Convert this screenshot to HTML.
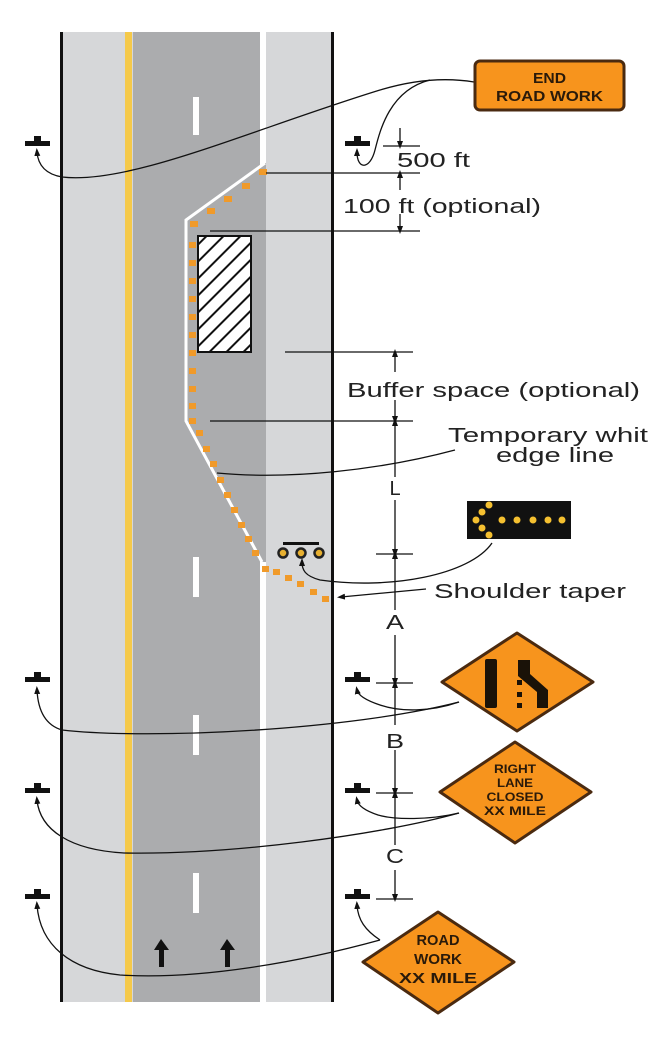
<!DOCTYPE html>
<html><head><meta charset="utf-8"><style>
html,body{margin:0;padding:0;background:#fff;}
svg{display:block;}
text{font-family:"Liberation Sans",sans-serif;fill:#222;}
.b{font-weight:bold;fill:#2a1a0a;}
</style></head><body>
<svg width="648" height="1056" viewBox="0 0 648 1056" xmlns="http://www.w3.org/2000/svg">
<defs>
<marker id="ah" markerWidth="8" markerHeight="8" refX="4" refY="4" orient="auto" markerUnits="userSpaceOnUse">
<path d="M0,1 L8,4 L0,7 Z" fill="#111"/></marker>
<pattern id="hatch" width="12" height="12" patternUnits="userSpaceOnUse" patternTransform="rotate(45)">
<rect width="12" height="12" fill="#fff"/><rect width="2" height="12" fill="#111"/></pattern>
</defs>
<!-- road -->
<rect x="62" y="32" width="270" height="970" fill="#d6d7d9"/>
<rect x="133" y="32" width="127" height="970" fill="#abacae"/>
<rect x="125" y="32" width="7" height="970" fill="#f5c94a"/>
<rect x="260" y="32" width="6" height="970" fill="#fff"/>
<rect x="60" y="32" width="3" height="970" fill="#111"/>
<rect x="331" y="32" width="3" height="970" fill="#111"/>
<!-- dashes -->
<g fill="#fff"><rect x="193" y="97" width="6" height="38"/><rect x="193" y="557" width="6" height="40"/><rect x="193" y="715" width="6" height="40"/><rect x="193" y="873" width="6" height="40"/></g>
<!-- work zone -->
<polygon points="264,163 186,220 186,421 262,562 266,562 266,163" fill="#abacae"/>
<polyline points="265,163 186,220 186,421 262,562" fill="none" stroke="#fff" stroke-width="3"/>
<rect x="198" y="236" width="53" height="116" fill="url(#hatch)" stroke="#111" stroke-width="2"/>
<g fill="#f09a2a">
<rect x="259" y="169" width="8" height="6"/><rect x="242" y="183" width="8" height="6"/><rect x="224" y="196" width="8" height="6"/><rect x="207" y="208" width="8" height="6"/><rect x="190" y="221" width="8" height="6"/>
<rect x="189" y="242" width="7" height="6"/><rect x="189" y="260" width="7" height="6"/><rect x="189" y="278" width="7" height="6"/><rect x="189" y="296" width="7" height="6"/><rect x="189" y="314" width="7" height="6"/><rect x="189" y="332" width="7" height="6"/><rect x="189" y="350" width="7" height="6"/><rect x="189" y="368" width="7" height="6"/><rect x="189" y="386" width="7" height="6"/><rect x="189" y="403" width="7" height="6"/><rect x="189" y="418" width="7" height="6"/>
<rect x="196" y="430" width="7" height="6"/><rect x="203" y="446" width="7" height="6"/><rect x="210" y="461" width="7" height="6"/><rect x="217" y="477" width="7" height="6"/><rect x="224" y="492" width="7" height="6"/><rect x="231" y="507" width="7" height="6"/><rect x="238" y="522" width="7" height="6"/><rect x="245" y="536" width="7" height="6"/><rect x="252" y="550" width="7" height="6"/>
<rect x="262" y="566" width="7" height="6"/><rect x="273" y="569" width="7" height="6"/><rect x="285" y="575" width="7" height="6"/><rect x="297" y="581" width="7" height="6"/><rect x="310" y="589" width="7" height="6"/><rect x="322" y="596" width="7" height="6"/>
</g>
<!-- arrow truck -->
<rect x="283" y="542" width="36" height="3" fill="#111"/>
<g fill="#e8b030" stroke="#222" stroke-width="2.5"><circle cx="283" cy="553" r="4.5"/><circle cx="301" cy="553" r="4.5"/><circle cx="319" cy="553" r="4.5"/></g>
<!-- lane arrows -->
<g fill="#111"><path d="M161,939 L154,950 L159,950 L159,967 L164,967 L164,950 L169,950 Z"/><path d="M227,939 L220,950 L225,950 L225,967 L230,967 L230,950 L235,950 Z"/></g>
<!-- posts -->
<g fill="#111">
<g id="p"><rect x="25" y="141" width="25" height="5"/><rect x="34" y="136" width="7" height="6"/></g>
<use href="#p" x="320" y="0"/>
<use href="#p" x="0" y="536"/><use href="#p" x="320" y="536"/>
<use href="#p" x="0" y="647"/><use href="#p" x="320" y="647"/>
<use href="#p" x="0" y="753"/><use href="#p" x="320" y="753"/>
</g>
<!-- dimension lines -->
<g stroke="#111" stroke-width="1.3" fill="none">
<line x1="383" y1="146" x2="420" y2="146"/>
<line x1="266" y1="173" x2="420" y2="173"/>
<line x1="210" y1="231" x2="420" y2="231"/>
<line x1="285" y1="352" x2="413" y2="352"/>
<line x1="210" y1="421" x2="413" y2="421"/>
<line x1="376" y1="554" x2="413" y2="554"/>
<line x1="376" y1="683" x2="413" y2="683"/>
<line x1="376" y1="793" x2="413" y2="793"/>
<line x1="376" y1="899" x2="413" y2="899"/>
<line x1="400" y1="128" x2="400" y2="145" marker-end="url(#ah)"/>
<line x1="400" y1="190" x2="400" y2="174" marker-end="url(#ah)"/>
<line x1="400" y1="214" x2="400" y2="230" marker-end="url(#ah)"/>
<line x1="395" y1="372" x2="395" y2="353" marker-end="url(#ah)"/>
<line x1="395" y1="400" x2="395" y2="420" marker-end="url(#ah)"/>
<line x1="395" y1="477" x2="395" y2="422" marker-end="url(#ah)"/>
<line x1="395" y1="500" x2="395" y2="553" marker-end="url(#ah)"/>
<line x1="395" y1="610" x2="395" y2="555" marker-end="url(#ah)"/>
<line x1="395" y1="635" x2="395" y2="682" marker-end="url(#ah)"/>
<line x1="395" y1="725" x2="395" y2="684" marker-end="url(#ah)"/>
<line x1="395" y1="750" x2="395" y2="792" marker-end="url(#ah)"/>
<line x1="395" y1="845" x2="395" y2="794" marker-end="url(#ah)"/>
<line x1="395" y1="870" x2="395" y2="898" marker-end="url(#ah)"/>
</g>
<!-- leaders -->
<g stroke="#111" stroke-width="1.3" fill="none">
<path d="M474,82 C450,78 420,78 380,90 C250,130 130,185 62,177 C45,174 38,165 37,152" marker-end="url(#ah)"/>
<path d="M430,80 C390,90 380,130 375,150 C370,170 357,170 357,152" marker-end="url(#ah)"/>
<path d="M455,450 C380,470 290,480 217,473"/>
<path d="M492,543 C470,575 390,590 320,580 C305,576 302,570 302,562" marker-end="url(#ah)"/>
<path d="M426,589 L341,597" marker-end="url(#ah)"/>
<path d="M459,702 C350,730 150,740 62,730 C45,725 38,710 37,690" marker-end="url(#ah)"/>
<path d="M459,702 C430,712 400,712 380,705 C365,700 358,695 357,690" marker-end="url(#ah)"/>
<path d="M459,813 C380,835 230,855 124,853 C70,850 40,830 37,800" marker-end="url(#ah)"/>
<path d="M459,813 C430,820 395,820 378,815 C363,810 358,805 357,800" marker-end="url(#ah)"/>
<path d="M380,940 C300,962 200,980 120,975 C70,970 40,945 37,905" marker-end="url(#ah)"/>
<path d="M380,940 C365,930 358,920 357,905" marker-end="url(#ah)"/>
</g>
<!-- labels -->
<text x="397" y="167" font-size="20" textLength="73" lengthAdjust="spacingAndGlyphs">500 ft</text>
<text x="343" y="213" font-size="20" textLength="198" lengthAdjust="spacingAndGlyphs">100 ft (optional)</text>
<text x="347" y="397" font-size="20" textLength="293" lengthAdjust="spacingAndGlyphs">Buffer space (optional)</text>
<text x="448" y="442" font-size="20" textLength="200" lengthAdjust="spacingAndGlyphs">Temporary whit</text>
<text x="496" y="462" font-size="20" textLength="118" lengthAdjust="spacingAndGlyphs">edge line</text>
<text x="395" y="495" font-size="20" text-anchor="middle">L</text>
<text x="434" y="598" font-size="20" textLength="192" lengthAdjust="spacingAndGlyphs">Shoulder taper</text>
<text x="395" y="629" font-size="20" text-anchor="middle" textLength="18" lengthAdjust="spacingAndGlyphs">A</text>
<text x="395" y="748" font-size="20" text-anchor="middle" textLength="18" lengthAdjust="spacingAndGlyphs">B</text>
<text x="395" y="863" font-size="20" text-anchor="middle" textLength="18" lengthAdjust="spacingAndGlyphs">C</text>
<!-- END ROAD WORK sign -->
<rect x="475" y="61" width="149" height="49" rx="5" fill="#f7941d" stroke="#4a2a10" stroke-width="3"/>
<text class="b" x="549.5" y="83" font-size="15" text-anchor="middle" textLength="33" lengthAdjust="spacingAndGlyphs">END</text>
<text class="b" x="549.5" y="101" font-size="15" text-anchor="middle" textLength="107" lengthAdjust="spacingAndGlyphs">ROAD WORK</text>
<!-- arrow board -->
<rect x="467" y="501" width="104" height="38" fill="#111"/>
<g fill="#f5c030"><circle cx="502" cy="520" r="3.5"/><circle cx="517" cy="520" r="3.5"/><circle cx="533" cy="520" r="3.5"/><circle cx="548" cy="520" r="3.5"/><circle cx="562" cy="520" r="3.5"/><circle cx="476" cy="520" r="3.5"/><circle cx="482" cy="512" r="3.5"/><circle cx="489" cy="505" r="3.5"/><circle cx="482" cy="528" r="3.5"/><circle cx="489" cy="535" r="3.5"/></g>
<!-- diamond 1 -->
<polygon points="517,633 593,682 517,731 442,682" fill="#f7941d" stroke="#4a2a10" stroke-width="3" stroke-linejoin="round"/>
<rect x="485" y="659" width="12" height="49" rx="2" fill="#1a1208"/>
<path d="M518,660 L530,660 L530,674 L548,690 L548,708 L537,708 L537,692 L518,676 Z" fill="#1a1208"/>
<g fill="#1a1208"><rect x="517" y="680" width="5" height="5"/><rect x="517" y="692" width="5" height="5"/><rect x="517" y="703" width="5" height="5"/></g>
<!-- diamond 2 -->
<polygon points="515,742 591,792 515,843 440,792" fill="#f7941d" stroke="#4a2a10" stroke-width="3" stroke-linejoin="round"/>
<text class="b" x="515" y="773" font-size="12" text-anchor="middle" textLength="42" lengthAdjust="spacingAndGlyphs">RIGHT</text>
<text class="b" x="515" y="787" font-size="12" text-anchor="middle" textLength="36" lengthAdjust="spacingAndGlyphs">LANE</text>
<text class="b" x="515" y="801" font-size="12" text-anchor="middle" textLength="57" lengthAdjust="spacingAndGlyphs">CLOSED</text>
<text class="b" x="515" y="815" font-size="12" text-anchor="middle" textLength="62" lengthAdjust="spacingAndGlyphs">XX MILE</text>
<!-- diamond 3 -->
<polygon points="438,912 514,962 438,1013 363,962" fill="#f7941d" stroke="#4a2a10" stroke-width="3" stroke-linejoin="round"/>
<text class="b" x="438" y="945" font-size="15" text-anchor="middle" textLength="43" lengthAdjust="spacingAndGlyphs">ROAD</text>
<text class="b" x="438" y="964" font-size="15" text-anchor="middle" textLength="48" lengthAdjust="spacingAndGlyphs">WORK</text>
<text class="b" x="438" y="983" font-size="15" text-anchor="middle" textLength="78" lengthAdjust="spacingAndGlyphs">XX MILE</text>
</svg>
</body></html>
